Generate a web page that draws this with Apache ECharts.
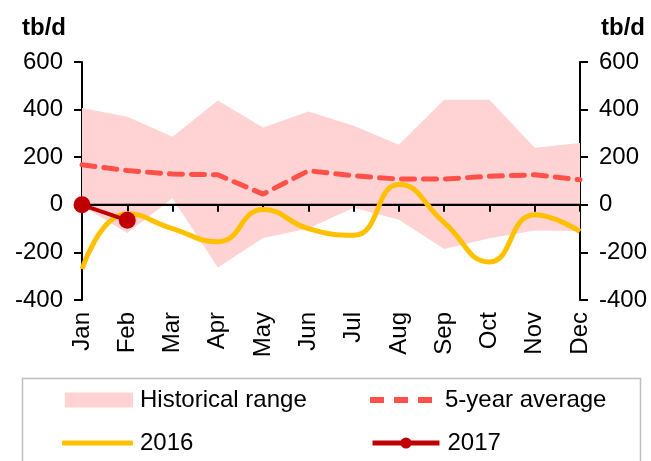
<!DOCTYPE html>
<html>
<head>
<meta charset="utf-8">
<style>
  html, body { margin: 0; padding: 0; background: #fff; }
  #chart { width: 651px; height: 461px; }
</style>
<script src="https://cdn.jsdelivr.net/npm/echarts@6/dist/echarts.min.js"></script>
</head>
<body>
<div id="chart"></div>
<script>
// Monthly stock change, thousand barrels per day
const months = ['Jan', 'Feb', 'Mar', 'Apr', 'May', 'Jun', 'Jul', 'Aug', 'Sep', 'Oct', 'Nov', 'Dec'];
const rangeLow  = [-5, -118, 28, -263, -140, -100, -12, -63, -186, -141, -108, -110];
const rangeHigh = [407, 370, 286, 438, 325, 392, 332, 252, 441, 441, 240, 260];
const avg5y     = [168, 144, 129, 126, 45, 143, 122, 108, 108, 120, 126, 105];
const y2016     = [-270, -38, -100, -155, -20, -100, -128, 85, -75, -240, -42, -112];
const y2017     = [0, -65];
const zeroLine  = [0, 0, 0, 0, 0, 0, 0, 0, 0, 0, 0, 0];
const yTicks    = { min: -400, max: 600, step: 200 };
const unitLabel = 'tb/d';

const FONT = 'Liberation Sans, Arial, sans-serif';
const FS = 24;
const PINK = '#FFD3D3';
const AVG_RED = '#FF5147';
const GOLD = '#FFC000';
const DARK_RED = '#C00000';

const rangeSpan = rangeHigh.map((v, i) => v - rangeLow[i]);

// three short bars used as the dashed-line legend glyph
const dashIcon = 'path://M0,0h14v6h-14z M24,0h14v6h-14z M48,0h14v6h-14z';

const chart = echarts.init(document.getElementById('chart'), null, { renderer: 'canvas' });

const yAxisBase = {
  type: 'value',
  min: yTicks.min,
  max: yTicks.max,
  interval: yTicks.step,
  axisLine: { show: true, onZero: false, lineStyle: { color: '#000', width: 2 } },
  axisTick: { show: true, length: 8, lineStyle: { color: '#000', width: 2 } },
  splitLine: { show: false },
  axisLabel: { color: '#000', fontSize: FS, fontFamily: FONT, margin: 19 }
};

const legendText = { color: '#000', fontSize: FS, fontFamily: FONT };

chart.setOption({
  animation: false,
  title: [
    { text: unitLabel, left: 22, top: 16, padding: 0,
      textStyle: { fontSize: FS, fontWeight: 'bold', fontFamily: FONT, color: '#000' } },
    { text: unitLabel, right: 6, top: 16, padding: 0,
      textStyle: { fontSize: FS, fontWeight: 'bold', fontFamily: FONT, color: '#000' } }
  ],
  grid: { left: 82, right: 71, top: 62, bottom: 161 },
  xAxis: [
    {
      // zero line with month ticks
      type: 'category', data: months, boundaryGap: false, z: 10,
      axisLine: { show: true, onZero: true, lineStyle: { color: '#000', width: 2 } },
      axisTick: { show: true, length: 7, lineStyle: { color: '#000', width: 2 } },
      axisLabel: { show: false }
    },
    {
      // month names along the bottom edge
      type: 'category', data: months, boundaryGap: false, position: 'bottom',
      axisLine: { show: false, onZero: false },
      axisTick: { show: false },
      axisLabel: { rotate: 90, margin: 12, color: '#000', fontSize: FS, fontFamily: FONT }
    }
  ],
  yAxis: [
    Object.assign({}, yAxisBase, { position: 'left' }),
    Object.assign({}, yAxisBase, { position: 'right' })
  ],
  legend: [
    { padding: 0, left: 65, top: 388, itemWidth: 68, itemHeight: 15, selectedMode: false,
      textStyle: Object.assign({ padding: [0, 0, 0, 2] }, legendText),
      data: [{ name: 'Historical range', icon: 'rect' }] },
    { padding: 0, left: 370, top: 388, itemWidth: 62, itemHeight: 6, selectedMode: false,
      textStyle: Object.assign({ padding: [0, 0, 0, 8] }, legendText),
      data: [{ name: '5-year average', icon: dashIcon, itemStyle: { color: AVG_RED } }] },
    { padding: 0, left: 62, top: 431, itemWidth: 71, itemHeight: 5, selectedMode: false,
      textStyle: Object.assign({ padding: [0, 0, 0, 2] }, legendText),
      data: [{ name: '2016', icon: 'roundRect', itemStyle: { color: GOLD } }] },
    { padding: 0, left: 370, top: 431, itemWidth: 67, itemHeight: 14, selectedMode: false,
      lineStyle: { width: 5 },
      textStyle: Object.assign({ padding: [0, 0, 0, 3] }, legendText),
      data: ['2017'] }
  ],
  graphic: [
    {
      type: 'rect', silent: true, z: 100,
      shape: { x: 22.5, y: 378.5, width: 618, height: 120 },
      style: { fill: 'none', stroke: '#BFBFBF', lineWidth: 1.5 }
    }
  ],
  series: [
    {
      name: 'rangeBase', type: 'line', data: rangeLow, stack: 'range', stackStrategy: 'all',
      symbol: 'none', lineStyle: { width: 0, opacity: 0 }, z: 1
    },
    {
      name: 'Historical range', type: 'line', data: rangeSpan, stack: 'range', stackStrategy: 'all',
      symbol: 'none', lineStyle: { width: 0, opacity: 0 },
      itemStyle: { color: PINK },
      areaStyle: { color: PINK, opacity: 1 }, z: 1
    },
    {
      // zero reference line kept above the shaded band
      name: 'zero', type: 'line', data: zeroLine, symbol: 'none', silent: true, z: 5,
      itemStyle: { color: '#000' },
      lineStyle: { color: '#000', width: 2 }
    },
    {
      name: '5-year average', type: 'line', data: avg5y, symbol: 'none', z: 11,
      itemStyle: { color: AVG_RED },
      lineStyle: { color: AVG_RED, width: 5, type: [13, 9], cap: 'round' }
    },
    {
      name: '2016', type: 'line', data: y2016, smooth: 0.5, symbol: 'none', z: 12,
      itemStyle: { color: GOLD },
      lineStyle: { color: GOLD, width: 5 }
    },
    {
      name: '2017', type: 'line', data: y2017, symbol: 'circle', symbolSize: 17, z: 13,
      itemStyle: { color: DARK_RED },
      lineStyle: { color: DARK_RED, width: 4 }
    }
  ]
});
</script>
</body>
</html>
